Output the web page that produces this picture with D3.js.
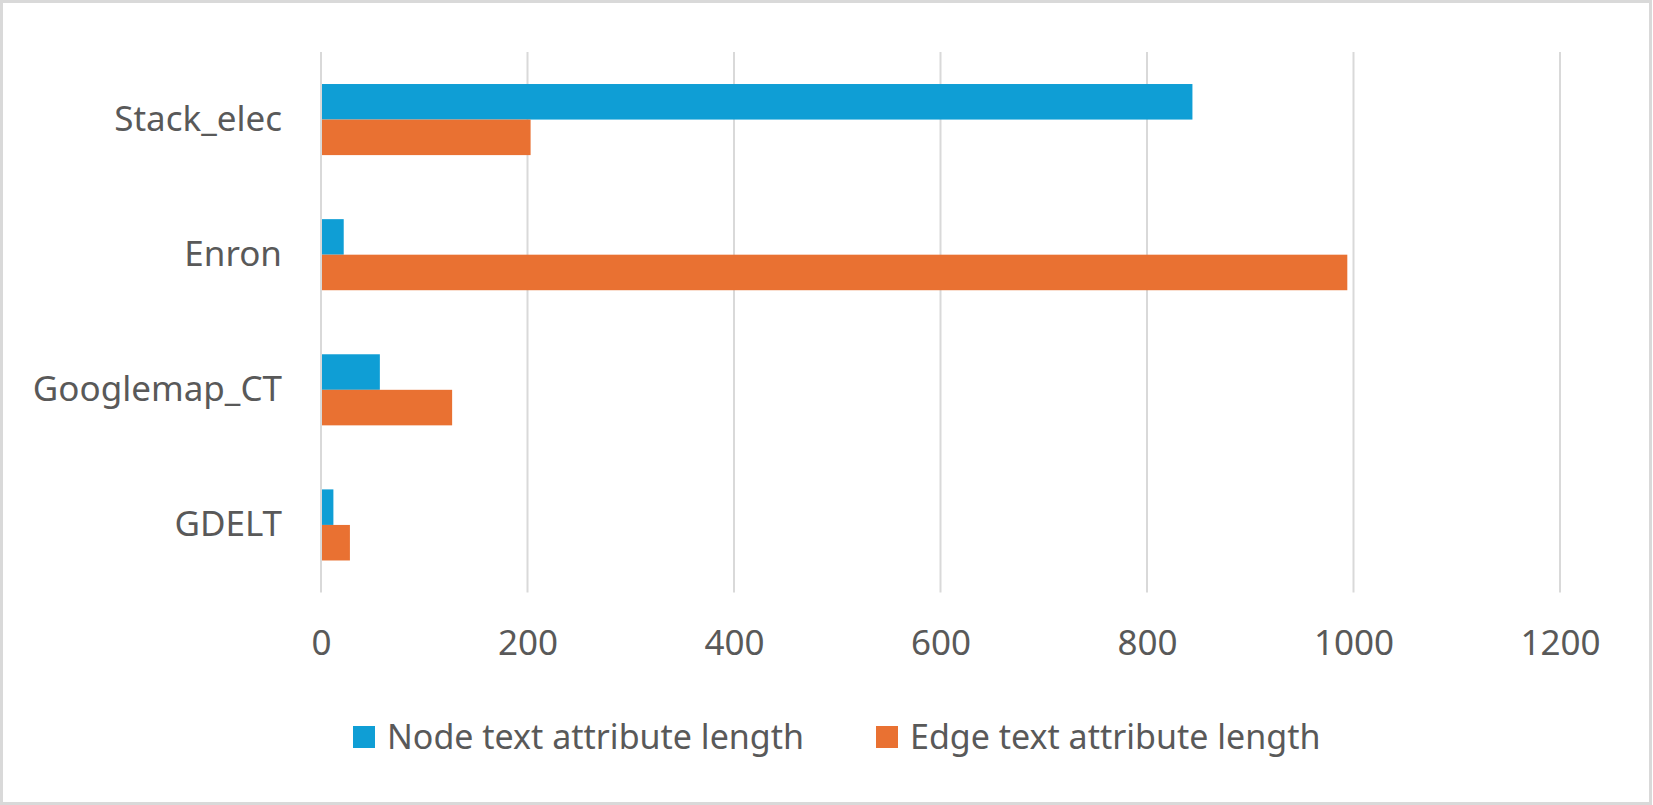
<!DOCTYPE html>
<html>
<head>
<meta charset="utf-8">
<script src="https://cdn.jsdelivr.net/npm/d3@7"></script>
<style>
    html, body { margin: 0; padding: 0; background: #fff; }
    svg text { font-family: "Noto Sans", "Open Sans", sans-serif; fill: #595959; }
</style>
</head>
<body>
<svg id="chart" width="1653" height="805"></svg>
<script>
const categories = ["Stack_elec", "Enron", "Googlemap_CT", "GDELT"];
const seriesNames = ["Node text attribute length", "Edge text attribute length"];
const nodeLengths = [844, 22, 57, 12];
const edgeLengths = [203, 994, 127, 28];
const xTicks = [0, 200, 400, 600, 800, 1000, 1200];
const colors = ["#0F9ED5", "#E97132"];

const width = 1653, height = 805;
const plot = { left: 321, right: 1560, top: 52, bottom: 592.5 };

const svg = d3.select("#chart");

// chart area border
svg.append("rect")
    .attr("x", 1.5)
    .attr("y", 1.5)
    .attr("width", width - 4)
    .attr("height", height - 3)
    .attr("fill", "#fff")
    .attr("stroke", "#d9d9d9")
    .attr("stroke-width", 3);

const x = d3.scaleLinear()
    .domain([0, 1200])
    .range([plot.left, plot.right]);

const y = d3.scaleBand()
    .domain(categories)
    .range([plot.top, plot.bottom])
    .paddingInner(0.474)
    .paddingOuter(0.237);

const ySeries = d3.scaleBand()
    .domain(seriesNames)
    .range([0, y.bandwidth()]);

// vertical gridlines
svg.append("g")
    .selectAll("line")
    .data(xTicks)
    .enter().append("line")
    .attr("x1", d => x(d))
    .attr("x2", d => x(d))
    .attr("y1", plot.top)
    .attr("y2", plot.bottom)
    .attr("stroke", "#d9d9d9")
    .attr("stroke-width", 2);

const rows = categories.map((c, i) => ({
    category: c,
    values: [nodeLengths[i], edgeLengths[i]]
}));

const group = svg.append("g")
    .selectAll("g")
    .data(rows)
    .enter().append("g")
    .attr("transform", d => `translate(0,${y(d.category)})`);

group.selectAll("rect")
    .data(d => d.values.map((v, j) => ({ series: seriesNames[j], value: v, color: colors[j] })))
    .enter().append("rect")
    .attr("x", x(0) + 1)
    .attr("y", d => ySeries(d.series))
    .attr("width", d => x(d.value) - x(0) - 1)
    .attr("height", ySeries.bandwidth())
    .attr("fill", d => d.color);

// x axis tick labels
const xAxis = svg.append("g")
    .attr("transform", `translate(0,${plot.bottom})`)
    .call(d3.axisBottom(x).tickValues(xTicks).tickSize(0).tickPadding(38).tickFormat(d3.format("d")));
xAxis.select(".domain").remove();
xAxis.selectAll("text")
    .attr("font-size", 35)
    .style("font-family", "'Noto Sans', sans-serif")
    .attr("fill", "#595959");

// category labels
const yAxis = svg.append("g")
    .attr("transform", `translate(${plot.left},0)`)
    .call(d3.axisLeft(y).tickSize(0).tickPadding(39));
yAxis.select(".domain").remove();
yAxis.selectAll("text")
    .attr("font-size", 35)
    .style("font-family", "'Noto Sans', sans-serif")
    .attr("fill", "#595959");

// legend
const legendItems = [
    { name: seriesNames[0], color: colors[0], x: 353 },
    { name: seriesNames[1], color: colors[1], x: 876 }
];
const legend = svg.append("g")
    .selectAll("g")
    .data(legendItems)
    .enter().append("g")
    .attr("transform", d => `translate(${d.x},726)`);

legend.append("rect")
    .attr("width", 22)
    .attr("height", 22)
    .attr("fill", d => d.color);

legend.append("text")
    .attr("x", 34)
    .attr("y", 11)
    .attr("dy", "0.35em")
    .attr("font-size", 34)
    .text(d => d.name);
</script>
</body>
</html>
